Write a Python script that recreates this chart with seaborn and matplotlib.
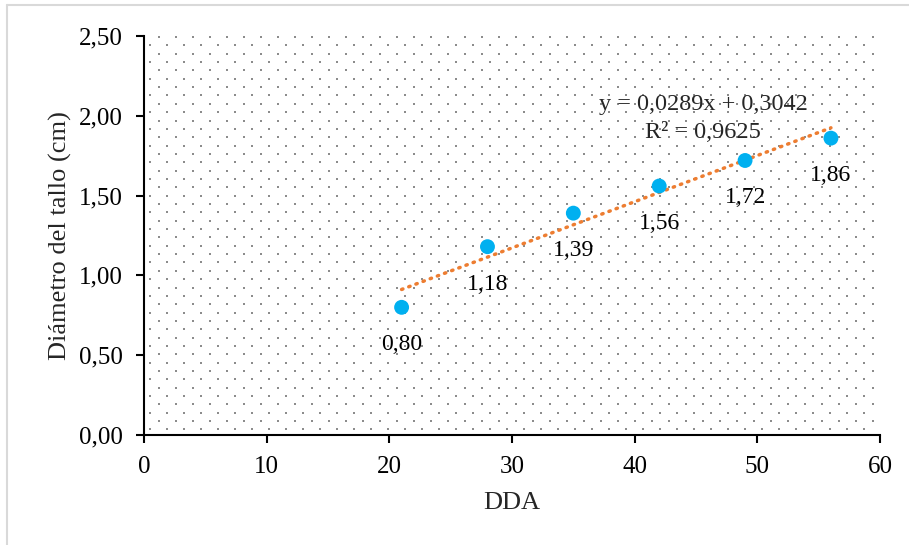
import matplotlib
matplotlib.use('Agg')
import matplotlib.pyplot as plt
import seaborn as sns
import numpy as np
import pandas as pd
from matplotlib.lines import Line2D

# data
dda = [21, 28, 35, 42, 49, 56]
diametro = [0.80, 1.18, 1.39, 1.56, 1.72, 1.86]
etiquetas = ["0,80", "1,18", "1,39", "1,56", "1,72", "1,86"]
x_ticks = [0, 10, 20, 30, 40, 50, 60]
y_ticks = [0.0, 0.5, 1.0, 1.5, 2.0, 2.5]

df = pd.DataFrame({"DDA": dda, "diam": diametro})

sns.set_style("white")
plt.rcParams['font.family'] = ['Liberation Serif', 'DejaVu Serif']

W, H = 909, 545
fig = plt.figure(figsize=(W / 100, H / 100), dpi=100)
ax = fig.add_axes([144 / W, 1 - 435 / H, (880 - 144) / W, (435 - 36) / H])

# light gray outer border (chart area)
fig.add_artist(Line2D([7 / W, 7 / W], [0, 1 - 5 / H], color='#d9d9d9', lw=1.5, transform=fig.transFigure))
fig.add_artist(Line2D([7 / W, 1], [1 - 5 / H, 1 - 5 / H], color='#d9d9d9', lw=1.5, transform=fig.transFigure))

# dotted pattern fill of the plot area
aw, ah = 880 - 144, 435 - 36
px, py = [], []
for i, yy in enumerate(np.arange(1, ah, 8.35)):
    off = 8.5 if i % 2 == 0 else 0
    for xx in np.arange(6 + off, aw, 17):
        px.append(xx / aw)
        py.append(1 - yy / ah)
ax.scatter(px, py, s=1.6, marker='s', color='#8c8c8c', linewidths=0,
           transform=ax.transAxes, zorder=0, clip_on=True)

# trend line
m, b = np.polyfit(dda, diametro, 1)
xt = np.array([min(dda), max(dda)])
ax.plot(xt, m * xt + b, color='#ED7D31', lw=2.5, linestyle=(0, (0.4, 1.8)),
        dash_capstyle='round', zorder=2)

sns.scatterplot(data=df, x="DDA", y="diam", ax=ax, color='#00B0F0', s=115,
                edgecolor='none', zorder=3)

for xv, yv, lab in zip(dda, diametro, etiquetas):
    ax.annotate(lab, (xv, yv), xytext=(0, -27), textcoords='offset points',
                ha='center', va='center', fontsize=17, color='black')

ax.text(45.6, 2.068, "y = 0,0289x + 0,3042", ha='center', va='center', fontsize=17.5)
ax.text(45.6, 1.895, "R² = 0,9625", ha='center', va='center', fontsize=17.5)

ax.set_xlim(0, 60)
ax.set_ylim(0, 2.5)
ax.set_xticks(x_ticks)
ax.set_xticklabels([str(t) for t in x_ticks])
ax.set_yticks(y_ticks)
ax.set_yticklabels([f"{t:.2f}".replace('.', ',') for t in y_ticks])
ax.tick_params(axis='both', direction='out', length=6, width=1.5, labelsize=18,
               colors='black', left=True, bottom=True)
ax.tick_params(axis='x', pad=9)
ax.tick_params(axis='y', pad=9)

for side in ['top', 'right']:
    ax.spines[side].set_visible(False)
for side in ['left', 'bottom']:
    ax.spines[side].set_color('black')
    ax.spines[side].set_linewidth(1.5)

ax.set_xlabel("DDA", fontsize=19)
ax.set_ylabel("Diámetro del tallo (cm)", fontsize=19)
ax.xaxis.set_label_coords(0.5, -0.144)
ax.yaxis.set_label_coords(-0.098, 0.5)

fig.savefig("out.png", dpi=100)
plt.close(fig)
